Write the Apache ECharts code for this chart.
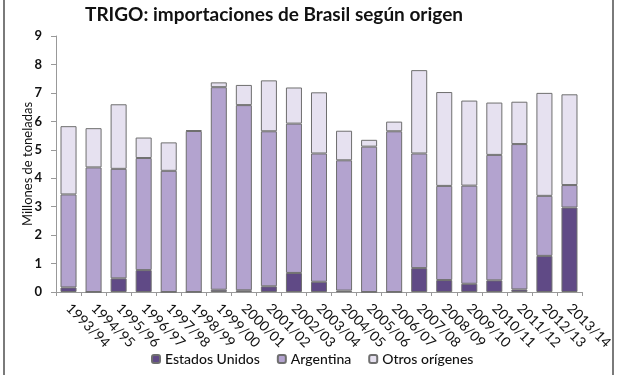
<!DOCTYPE html>
<html><head><meta charset="utf-8">
<script src="https://cdn.jsdelivr.net/npm/echarts@6/dist/echarts.min.js"></script>
<style>html,body{margin:0;padding:0;background:#fff}#c{width:620px;height:375px}</style>
</head><body><div id="c"></div>
<script>
const categories = ['1993/94','1994/95','1995/96','1996/97','1997/98','1998/99','1999/00','2000/01','2001/02','2002/03','2003/04','2004/05','2005/06','2006/07','2007/08','2008/09','2009/10','2010/11','2011/12','2012/13','2013/14'];
const estadosUnidos = [0.16,0,0.48,0.77,0,0,0.08,0.06,0.2,0.67,0.36,0.05,0,0,0.84,0.42,0.29,0.41,0.09,1.27,2.97];
const argentina = [3.27,4.38,3.85,3.94,4.26,5.66,7.12,6.51,5.45,5.25,4.51,4.58,5.11,5.65,4.03,3.31,3.45,4.41,5.11,2.11,0.79];
const otros = [2.40,1.38,2.27,0.72,1.00,0.03,0.17,0.71,1.79,1.27,2.15,1.04,0.24,0.34,2.93,3.30,2.99,1.84,1.49,3.62,3.19];
const yTicks = [0,1,2,3,4,5,6,7,8,9];

const FONT = 'Lato';
const chart = echarts.init(document.getElementById('c'), null, {renderer:'canvas'});
function ser(name, data, color){
  return {name, type:'bar', stack:'t', data, barWidth:'64%',
    itemStyle:{color, borderColor:'#6f6f6f', borderWidth:1}};
}
chart.setOption({
  animation:false,
  title:{text:'TRIGO: importaciones de Brasil según origen', left:80, top:0,
    textStyle:{fontFamily:FONT, fontSize:19, fontWeight:'bold', color:'#111'}},
  grid:{left:56, right:38, top:36, bottom:83},
  legend:{bottom:4, left:146, itemWidth:8, itemHeight:8, itemGap:17,
    textStyle:{fontFamily:FONT, fontSize:14, fontWeight:500, color:'#111'},
    data:['Estados Unidos','Argentina','Otros orígenes']},
  xAxis:{type:'category', data:categories,
    axisLine:{lineStyle:{color:'#999'}},
    axisTick:{show:true, alignWithLabel:false, length:4, lineStyle:{color:'#999'}},
    axisLabel:{rotate:-45, interval:0, margin:14, fontFamily:FONT, fontSize:14, color:'#111'}},
  yAxis:{type:'value', min:0, max:9, interval:1,
    name:'Millones de toneladas', nameLocation:'middle', nameGap:22, nameMoveOverlap:false,
    nameTextStyle:{fontFamily:FONT, fontSize:13, color:'#111'},
    splitLine:{show:false},
    axisLine:{show:true, lineStyle:{color:'#999'}},
    axisTick:{show:true, length:5, lineStyle:{color:'#999'}},
    axisLabel:{margin:14, fontFamily:FONT, fontSize:13, fontWeight:'bold', color:'#111',
      formatter:v=>yTicks.includes(v)?String(v):''}},
  series:[
    ser('Estados Unidos', estadosUnidos, '#604a86'),
    ser('Argentina', argentina, '#b3a3cf'),
    ser('Otros orígenes', otros, '#e6e1f0')
  ],
  graphic:[
    {type:'line', shape:{x1:4,y1:0,x2:4,y2:375}, style:{stroke:'#7a7a7a', lineWidth:2}},
    {type:'line', shape:{x1:613,y1:0,x2:613,y2:375}, style:{stroke:'#7a7a7a', lineWidth:2}}
  ]
});
</script></body></html>
